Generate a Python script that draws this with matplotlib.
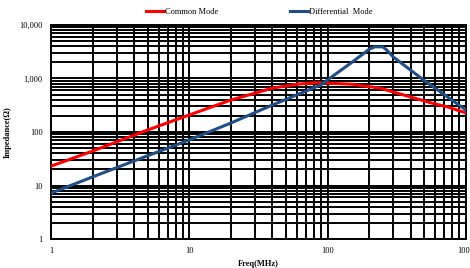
import numpy as np
import matplotlib.pyplot as plt
from matplotlib.ticker import FixedLocator, FuncFormatter, NullFormatter

# values (MHz, ohm)
cm_freq = [1, 2, 5, 10, 20, 40, 60, 80, 100, 150, 240, 400, 560, 750, 1000]
cm_imp = [23, 44, 109, 208, 395, 660, 780, 830, 820, 780, 660, 450, 350, 290, 228]

dm_freq = [1, 2, 5, 10, 20, 40, 89, 150, 200, 220, 250, 265, 300, 500, 1000]
dm_imp = [7.2, 14.5, 36, 71, 147, 320, 755, 2000, 3500, 3900, 3900, 3500, 2500, 920, 258]

x_ticks = [1, 10, 100, 1000]
y_ticks = [1, 10, 100, 1000, 10000]

plt.rcParams['font.family'] = ['Liberation Serif', 'DejaVu Serif']

fig = plt.figure(figsize=(4.7, 2.68), dpi=100)
ax = fig.add_axes([0.1085, 0.108, 0.8825, 0.799])

ax.plot(cm_freq, cm_imp, color='#ff0000', lw=2.2, label='Common Mode', zorder=3)
ax.plot(dm_freq, dm_imp, color='#1f4e86', lw=2.2, label='Differential  Mode', zorder=3)

ax.set_xscale('log')
ax.set_yscale('log')
ax.set_xlim(1, 1000)
ax.set_ylim(1, 10000)

minor = [m * 10 ** e for e in range(0, 4) for m in range(2, 10)]
ax.xaxis.set_major_locator(FixedLocator(x_ticks))
ax.yaxis.set_major_locator(FixedLocator(y_ticks))
ax.xaxis.set_minor_locator(FixedLocator(minor))
ax.yaxis.set_minor_locator(FixedLocator(minor))
ax.xaxis.set_minor_formatter(NullFormatter())
ax.yaxis.set_minor_formatter(NullFormatter())
ax.xaxis.set_major_formatter(FuncFormatter(lambda v, p: f'{int(v)}'))
ax.yaxis.set_major_formatter(FuncFormatter(lambda v, p: f'{int(v):,}'))

ax.grid(True, which='both', color='black', lw=1.4)
ax.tick_params(which='both', length=0, labelsize=6, pad=6)
for s in ax.spines.values():
    s.set_linewidth(1.4)

ax.set_xlabel('Freq(MHz)', fontsize=6, fontweight='bold', labelpad=3)
ax.set_ylabel('Impedance(Ω)', fontsize=6, fontweight='bold', labelpad=3)
ax.yaxis.set_label_coords(-0.095, 0.5)

fig.legend(loc='upper center', bbox_to_anchor=(0.552, 1.0), ncol=2, frameon=False,
           fontsize=6, handlelength=2.2, handletextpad=0.1, columnspacing=8.6)

fig.savefig('out.png', dpi=100)
